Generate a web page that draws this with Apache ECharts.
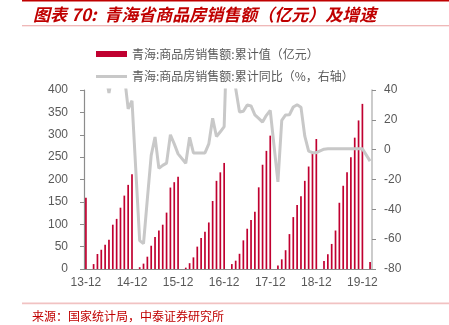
<!DOCTYPE html>
<html>
<head>
<meta charset="utf-8">
<style>
  html, body { margin: 0; padding: 0; background: #ffffff; }
  #chart { width: 449px; height: 325px; }
</style>
<script src="https://cdn.jsdelivr.net/npm/echarts@6/dist/echarts.min.js"></script>
</head>
<body>
<div id="chart"></div>
<script>
// Monthly categories, Dec 2013 through Feb 2020
const categories = [
  '13-12',
  '14-01','14-02','14-03','14-04','14-05','14-06','14-07','14-08','14-09','14-10','14-11','14-12',
  '15-01','15-02','15-03','15-04','15-05','15-06','15-07','15-08','15-09','15-10','15-11','15-12',
  '16-01','16-02','16-03','16-04','16-05','16-06','16-07','16-08','16-09','16-10','16-11','16-12',
  '17-01','17-02','17-03','17-04','17-05','17-06','17-07','17-08','17-09','17-10','17-11','17-12',
  '18-01','18-02','18-03','18-04','18-05','18-06','18-07','18-08','18-09','18-10','18-11','18-12',
  '19-01','19-02','19-03','19-04','19-05','19-06','19-07','19-08','19-09','19-10','19-11','19-12',
  '20-01','20-02'
];

// Cumulative commercial housing sales, 100 million yuan (January not published)
const salesValue = [
  159,
  null, 11, 33.5, 43, 54, 65.5, 99, 112, 137, 164, 188, 212,
  null, 4, 12, 27.5, 52, 71.5, 86, 99, 126, 182, 194, 206,
  null, 3, 13, 26, 50, 69, 83, 104, 152, 197, 216, 237,
  null, 11, 18.6, 34, 64, 90, 109.5, 128, 182.5, 233, 264, 298,
  null, 8, 21.6, 42, 78, 116, 143, 162.5, 197, 229, 258, 290.5,
  null, 18, 33, 56, 86, 148, 186, 216, 250, 293.5, 332, 369,
  null, 15.6
];

// Cumulative year-on-year growth, % (right axis)
const salesYoY = [
  55,
  null, 80, 65, 55, 52, 38, 52, 60, 58, 50, 27.3, 32.8,
  null, -61, -63, -33, -3.8, 8.5, -12.5, -10.5, -9, 10, 3.9, -2.8,
  null, -9.1, 8.3, -2.2, -2.2, -2.2, -2.2, 3.9, 21, 8.8, 12, 15.5,
  null, 180, 41, 25.3, 25.8, 30, 29.3, 23.3, 21, 18.5, 23, 26.3,
  null, -21.6, 19.7, 23.3, 23.4, 28.6, 30.1, 28.5, 9, -1, -2, -2,
  null, 0.3, 0.6, 0.6, 0.6, 0.6, 0.6, 0.6, 0.6, 0.6, 0.6, 0.6,
  null, -7.7
];

const leftTicks = { min: 0, max: 400, interval: 50 };
const rightTicks = { min: -80, max: 40, interval: 20 };

const barName = '青海:商品房销售额:累计值（亿元）';
const lineName = '青海:商品房销售额:累计同比（%，右轴）';
const titleText = '图表 70:  青海省商品房销售额（亿元）及增速';
const sourceText = '来源：国家统计局，中泰证券研究所';

const cjkFont = '"Noto Sans CJK SC", "Noto Sans", sans-serif';
const numFont = '"Liberation Sans", Arial, sans-serif';
const labelColor = '#595959';
const barColor = '#C00030';
const lineColor = '#c8c8c8';

const chart = echarts.init(document.getElementById('chart'), null, { renderer: 'canvas' });

chart.setOption({
  animation: false,
  backgroundColor: '#ffffff',
  grid: { left: 84, right: 77, top: 90, bottom: 56, containLabel: false },
  legend: [
    {
      data: [{ name: barName, icon: 'rect' }],
      left: 91, top: 43,
      itemWidth: 31, itemHeight: 6,
      textStyle: { color: labelColor, fontSize: 12, fontFamily: cjkFont }
    },
    {
      data: [{ name: lineName, icon: 'rect', itemStyle: { color: lineColor } }],
      left: 91, top: 65.5,
      itemWidth: 31, itemHeight: 3,
      textStyle: { color: labelColor, fontSize: 12, fontFamily: cjkFont }
    }
  ],
  xAxis: {
    type: 'category',
    data: categories,
    boundaryGap: true,
    axisLine: { lineStyle: { color: '#8c8c8c', width: 1 } },
    axisTick: { interval: 11, length: 4, lineStyle: { color: '#8c8c8c' } },
    axisLabel: { interval: 11, color: labelColor, fontSize: 12, fontFamily: numFont, margin: 8 },
    splitLine: { show: false }
  },
  yAxis: [
    {
      type: 'value',
      min: leftTicks.min, max: leftTicks.max, interval: leftTicks.interval,
      axisLine: { show: true, lineStyle: { color: '#8c8c8c', width: 1.2 } },
      axisTick: { show: true, length: 4, lineStyle: { color: '#8c8c8c' } },
      axisLabel: { color: labelColor, fontSize: 12, fontFamily: numFont, margin: 16 },
      splitLine: { show: false }
    },
    {
      type: 'value',
      position: 'right',
      min: rightTicks.min, max: rightTicks.max, interval: rightTicks.interval,
      axisLine: { show: true, lineStyle: { color: '#bfbfbf', width: 1.6 } },
      axisTick: { show: true, length: 4, lineStyle: { color: '#8c8c8c' } },
      axisLabel: { color: labelColor, fontSize: 12, fontFamily: numFont, margin: 12 },
      splitLine: { show: false }
    }
  ],
  series: [
    {
      name: barName,
      type: 'bar',
      yAxisIndex: 0,
      data: salesValue,
      barWidth: 1.7,
      itemStyle: { color: barColor }
    },
    {
      name: lineName,
      type: 'line',
      yAxisIndex: 1,
      data: salesYoY,
      connectNulls: true,
      symbol: 'none',
      showSymbol: false,
      clip: true,
      lineStyle: { color: lineColor, width: 3 },
      itemStyle: { color: lineColor }
    }
  ],
  graphic: [
    { type: 'rect', shape: { x: 22, y: 0, width: 427, height: 1.5 }, style: { fill: '#c00000' }, silent: true },
    {
      type: 'text', x: 33, y: 14.5,
      style: {
        text: titleText, fill: '#c00000',
        font: 'italic bold 17px ' + cjkFont,
        textVerticalAlign: 'middle', verticalAlign: 'middle'
      },
      silent: true
    },
    { type: 'rect', shape: { x: 22, y: 25.2, width: 427, height: 1 }, style: { fill: '#eaa0a0' }, silent: true },
    { type: 'rect', shape: { x: 22, y: 302.6, width: 427, height: 1.6 }, style: { fill: '#f1c2c2' }, silent: true },
    {
      type: 'text', x: 32, y: 316,
      style: {
        text: sourceText, fill: '#c00000',
        font: '12px ' + cjkFont,
        textVerticalAlign: 'middle', verticalAlign: 'middle'
      },
      silent: true
    }
  ]
});
</script>
</body>
</html>
